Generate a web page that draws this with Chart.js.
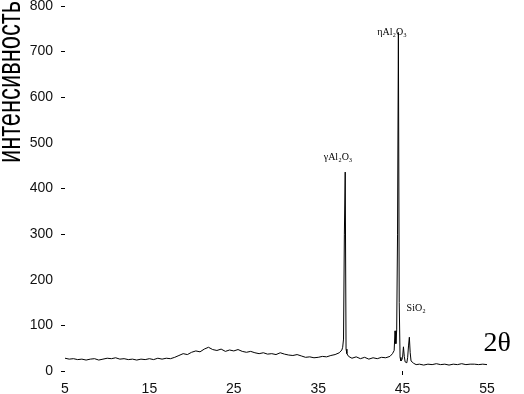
<!DOCTYPE html>
<html><head><meta charset="utf-8">
<script src="https://cdn.jsdelivr.net/npm/chart.js@4"></script>
<style>html,body{margin:0;padding:0;background:#fff}canvas{display:block}</style>
</head><body>
<canvas id="c" width="524" height="394"></canvas>
<script>
// 2θ angles (degrees)
const twoTheta = [
 5,5.5,6,6.5,7,7.5,8,8.5,9,9.5,10,10.5,11,11.5,12,12.5,13,13.5,14,14.5,
 15,15.5,16,16.5,17,17.5,18,18.5,19,19.5,20,20.5,21,21.5,22,22.5,23,23.5,24,24.5,
 25,25.5,26,26.5,27,27.5,28,28.5,29,29.5,30,30.5,31,31.5,32,32.5,33,33.5,34,34.5,
 35,35.5,36,36.5,37,37.5,37.8,37.9,38.0,38.1,38.2,38.3,38.4,38.6,39,39.5,40,40.5,41,41.5,42,
 42.5,43,43.5,43.8,44.0,44.1,44.2,44.3,44.4,44.5,44.6,44.7,44.8,44.9,45.0,45.1,45.2,45.3,45.5,45.6,
 45.7,45.8,45.9,46.0,46.3,46.6,47,47.5,48,48.5,49,49.5,50,50.5,51,51.5,52,52.5,53,53.5,
 54,54.5,55
];
// intensity (counts)
const intensity = [
 28,26,27,25,26,24,26,27,24,26,28,27,29,26,27,25,26,24,26,25,
 27,25,28,26,28,27,30,34,38,36,41,44,42,48,52,47,45,48,43,46,
 44,47,43,41,43,40,38,40,37,38,36,40,37,35,34,36,33,30,31,29,
 30,32,31,34,36,40,46,52,70,300,436,48,38,32,28,31,27,30,26,29,27,
 30,29,32,38,45,88,60,90,300,742,150,30,22,24,30,53,32,20,18,30,
 55,74,40,22,17,14,15,13,15,14,16,14,15,13,15,14,16,14,15,15,
 14,15,14
];
const xTickValues = [5, 15, 25, 35, 45, 55];
const xTickMarks = [45];
const yTickValues = [0, 100, 200, 300, 400, 500, 600, 700, 800];
const yTickMarks = [0, 100, 300, 400, 600, 700, 800];
const yTitle = 'интенсивность';
const xTitle = '2θ';
const peakNames = ['γAl₂O₃', 'ηAl₂O₃', 'SiO₂'];
const peakNameX = [37.35, 43.75, 46.6];
const peakNameY = [469, 743, 138];
const xTitleAt = [56.2, 61];

const tickFont = {family: "'Liberation Sans Narrow','Liberation Sans',Arial,sans-serif", size: 14};

const annot = {
  id: 'annot',
  afterDraw(chart) {
    const ctx = chart.ctx, xs = chart.scales.x, ys = chart.scales.y;
    ctx.save();
    ctx.fillStyle = '#000';
    ctx.textAlign = 'center';
    ctx.textBaseline = 'middle';
    ctx.font = "10px 'Liberation Serif','DejaVu Serif',serif";
    peakNames.forEach((t, i) => {
      ctx.fillText(t, xs.getPixelForValue(peakNameX[i]), ys.getPixelForValue(peakNameY[i]));
    });
    ctx.font = "28px 'Liberation Serif','DejaVu Serif',serif";
    ctx.fillText(xTitle, xs.getPixelForValue(xTitleAt[0]), ys.getPixelForValue(xTitleAt[1]));
    // y-axis title, rotated
    ctx.font = "22px 'Liberation Sans',Arial,sans-serif";
    const w = ctx.measureText(yTitle).width;
    const target = 162;
    ctx.translate(11, 163);
    ctx.rotate(-Math.PI / 2);
    ctx.scale(target / w, 1.55);
    ctx.textAlign = 'left';
    ctx.textBaseline = 'middle';
    ctx.fillText(yTitle, 0, 0);
    ctx.restore();
  }
};

new Chart(document.getElementById('c'), {
  type: 'scatter',
  data: {
    datasets: [{
      data: twoTheta.map((x, i) => ({x, y: intensity[i]})),
      showLine: true,
      borderColor: '#000',
      borderWidth: 1,
      pointRadius: 0,
      tension: 0,
      fill: false
    }]
  },
  options: {
    responsive: false,
    animation: false,
    layout: {padding: {top: 0, right: 37, left: 0, bottom: 0}},
    plugins: {legend: {display: false}, tooltip: {enabled: false}},
    scales: {
      x: {
        type: 'linear', min: 5, max: 55,
        afterBuildTicks: s => { s.ticks = xTickValues.map(v => ({value: v})); },
        afterFit: s => { s.height = 23; s.paddingLeft = 0; s.paddingRight = 0; },
        ticks: {font: tickFont, color: '#111', padding: 6, maxRotation: 0, autoSkip: false},
        grid: {display: true, drawOnChartArea: false, drawTicks: true, tickLength: 4, lineWidth: 1,
               color: c => (c.tick && xTickMarks.includes(c.tick.value)) ? '#000' : 'rgba(0,0,0,0)'},
        border: {display: false}
      },
      y: {
        type: 'linear', min: 0, max: 800,
        afterBuildTicks: s => { s.ticks = yTickValues.map(v => ({value: v})); },
        afterFit: s => { s.width = 65; s.paddingTop = 6; s.paddingBottom = 0; },
        ticks: {font: tickFont, color: '#111', padding: 8, autoSkip: false},
        grid: {display: true, drawOnChartArea: false, drawTicks: true, tickLength: 4, lineWidth: 1,
               color: c => (c.tick && yTickMarks.includes(c.tick.value)) ? '#000' : 'rgba(0,0,0,0)'},
        border: {display: false}
      }
    }
  },
  plugins: [annot]
});
</script>
</body></html>
